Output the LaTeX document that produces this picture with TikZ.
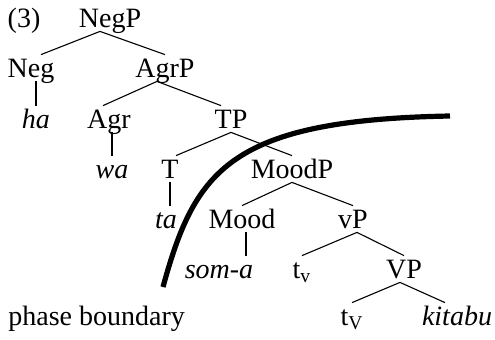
\documentclass[tikz,border=0pt]{standalone}
\usepackage{fontspec}
\setmainfont{Liberation Serif}
\usepackage{tikz}
\usetikzlibrary{calc}
\tikzset{
  cat/.style={anchor=base, inner sep=0.5pt, text height=10.5pt, text depth=1.5pt, font=\fontsize{14}{16}\selectfont},
  word/.style={cat, font=\fontsize{14}{16}\selectfont\itshape},
  branch/.style={line width=0.55pt, draw=black},
  phaseline/.style={line width=2.6pt, draw=black, line cap=butt}
}
\begin{document}
\begin{tikzpicture}[x=0.5pt, y=-0.5pt]
\useasboundingbox (0,0) rectangle (495,339);
% labels
\node[cat] (exnum) at (24,27) {(3)};
\node[cat] (negp) at (110,27) {NegP};
\node[cat] (neg) at (31,77) {Neg};
\node[cat] (agrp) at (165,77) {AgrP};
\node[word] (ha) at (36,128) {ha};
\node[cat] (agr) at (109,128) {Agr};
\node[cat] (tp) at (231,128) {TP};
\node[word] (wa) at (112,178) {wa};
\node[cat] (tnode) at (170,178) {T};
\node[cat] (moodp) at (292,178) {MoodP};
\node[word] (ta) at (166,228) {ta};
\node[cat] (mood) at (242,228) {Mood};
\node[cat] (vp) at (353,228) {vP};
\node[word] (soma) at (219,278) {som-a};
\node[cat] (tv) at (302,278) {t\textsubscript{v}};
\node[cat] (bigvp) at (404,278) {VP};
\node[cat, anchor=base west] (phase) at (7,325) {phase boundary};
\node[cat] (tvv) at (352,325) {t\textsubscript{V}};
\node[word] (kitabu) at (457,325) {kitabu};
% branches
\draw[branch] ([xshift=-5pt]negp.south) -- ([xshift=5pt]neg.north);
\draw[branch] ([xshift=-5pt]negp.south) -- (agrp.north);
\draw[branch] (ha.north |- neg.south) -- (ha.north);
\draw[branch] ([xshift=-4pt]agrp.south) -- ([xshift=-3pt]agr.north);
\draw[branch] ([xshift=-4pt]agrp.south) -- ([xshift=-5pt]tp.north);
\draw[branch] (wa.north |- agr.south) -- (wa.north);
\draw[branch] (tp.south) -- ([xshift=3pt]tnode.north);
\draw[branch] (tp.south) -- (moodp.north);
\draw[branch] (tnode.south) -- (tnode.south |- ta.north);
\draw[branch] (moodp.south) -- (mood.north);
\draw[branch] (moodp.south) -- (vp.north);
\draw[branch] ([xshift=2pt]mood.south) -- ([xshift=2pt]mood.south |- soma.north);
\draw[branch] ([xshift=2pt]vp.south) -- (tv.north);
\draw[branch] ([xshift=2pt]vp.south) -- (bigvp.north);
\draw[branch] ([xshift=-2pt]bigvp.south) -- (tvv.north);
\draw[branch] ([xshift=-2pt]bigvp.south) -- ([xshift=-6pt]kitabu.north);
% phase boundary curve
\coordinate (pbot) at (163,287);
\coordinate (ptop) at (450,116);
\draw[phaseline] (pbot) .. controls (195,170) and (230,120) .. (ptop);
\end{tikzpicture}
\end{document}
